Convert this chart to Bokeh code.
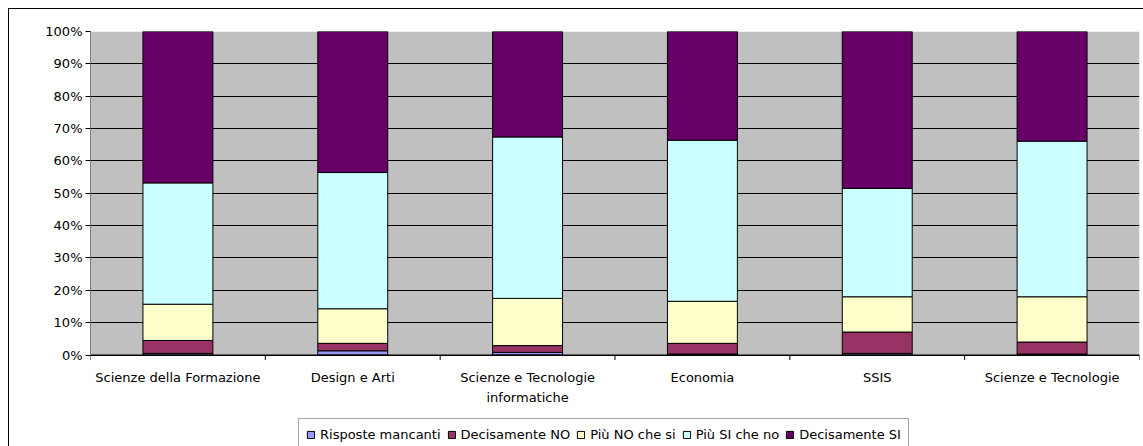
from bokeh.plotting import figure
from bokeh.models import FixedTicker, Range1d, ColumnDataSource, Legend, LegendItem, BoxAnnotation, Span
from bokeh.core.properties import value
from bokeh.embed import file_html
from bokeh.resources import INLINE

categories = ["Scienze della Formazione", "Design e Arti", "Scienze e Tecnologie\ninformatiche",
              "Economia", "SSIS", "Scienze e Tecnologie"]
series = ["Risposte mancanti", "Decisamente NO", "Più NO che si", "Più SI che no", "Decisamente SI"]
risposte_mancanti = [0.5, 1.3, 0.8, 0.3, 0.5, 0.3]
decisamente_no = [4.0, 2.3, 2.1, 3.3, 6.6, 3.7]
piu_no_che_si = [11.2, 10.7, 14.6, 13.0, 10.9, 14.0]
piu_si_che_no = [37.5, 42.1, 49.9, 49.8, 33.5, 48.1]
decisamente_si = [46.8, 43.6, 32.6, 33.6, 48.5, 33.9]
colors = ["#9999FF", "#993366", "#FFFFCC", "#CCFFFF", "#660066"]
y_ticks = [0, 10, 20, 30, 40, 50, 60, 70, 80, 90, 100]

FONT = "DejaVu Sans"
W, H = 1143, 446
LEFT, RIGHT, TOP = 90, 4, 31
PLOT_H = 323.5                      # pixel height of the 0-100% area
FRAME_H = H - TOP
Y_MIN = -100 * (FRAME_H - PLOT_H) / PLOT_H   # room below 0% for labels and legend
PX_PER_UNIT = PLOT_H / 100.0
TICK = 5 / PX_PER_UNIT

n = len(categories)
positions = [i + 0.5 for i in range(n)]
boundaries = list(range(n + 1))
keys = ["s0", "s1", "s2", "s3", "s4"]
source = ColumnDataSource(dict(x=positions, s0=risposte_mancanti, s1=decisamente_no,
                               s2=piu_no_che_si, s3=piu_si_che_no, s4=decisamente_si))

p = figure(width=W, height=H, output_backend="svg", toolbar_location=None,
           x_range=Range1d(0, n), y_range=Range1d(Y_MIN, 100), x_axis_location=None,
           min_border_left=LEFT, min_border_right=RIGHT, min_border_top=TOP, min_border_bottom=0)
p.background_fill_color = "white"
p.border_fill_color = "white"
p.border_fill_alpha = 0
p.outline_line_color = None
p.styles = {"background-color": "white",
            "box-shadow": "inset 8px 8px 0 0 white, inset 9px 9px 0 0 black"}

# grey plot area from 0% to 100%
p.add_layout(BoxAnnotation(bottom=0, top=100, fill_color="#C0C0C0", fill_alpha=1,
                           line_color=None, level="image"))

renderers = p.vbar_stack(keys, x="x", width=0.4, source=source, color=colors,
                         line_color="black", line_width=1)

p.xgrid.visible = False
p.ygrid.grid_line_color = "black"
p.ygrid.grid_line_width = 1
p.ygrid.ticker = FixedTicker(ticks=y_ticks)

# y axis
p.yaxis.ticker = FixedTicker(ticks=y_ticks)
p.yaxis.bounds = (0, 100)
p.yaxis.major_label_overrides = {t: f"{t}%" for t in y_ticks}
p.yaxis.major_tick_out = 5
p.yaxis.major_tick_in = 0
p.yaxis.minor_tick_line_color = None
p.yaxis.axis_line_color = "#808080"
p.yaxis.major_tick_line_color = "black"
p.yaxis.major_label_standoff = 3
p.yaxis.major_label_text_font = FONT
p.yaxis.major_label_text_font_size = "13px"
p.yaxis.major_label_text_color = "black"

# category axis at 0%
p.add_layout(Span(location=0, dimension="width", line_color="black", line_width=1))
p.segment(x0=boundaries, y0=[0] * len(boundaries), x1=boundaries, y1=[-TICK] * len(boundaries),
          line_color="black", line_width=1)
p.text(x=positions, y=[0] * n, text=categories, text_align="center", text_baseline="top",
       y_offset=15, text_font=value(FONT), text_font_size="13px", text_color="black",
       text_line_height=1.35)

legend = Legend(items=[LegendItem(label=s, renderers=[r]) for s, r in zip(series, renderers)],
                location=(208, -4), orientation="horizontal")
legend.label_text_font = FONT
legend.label_text_font_size = "13px"
legend.label_text_color = "black"
legend.glyph_width = 9
legend.glyph_height = 9
legend.label_standoff = 5
legend.spacing = 6
legend.padding = 7
legend.margin = 0
legend.label_height = 16
legend.border_line_color = "#505050"
legend.border_line_width = 1
legend.background_fill_color = "white"
legend.background_fill_alpha = 1
p.add_layout(legend)

open("out.html", "w").write(file_html(p, INLINE))
